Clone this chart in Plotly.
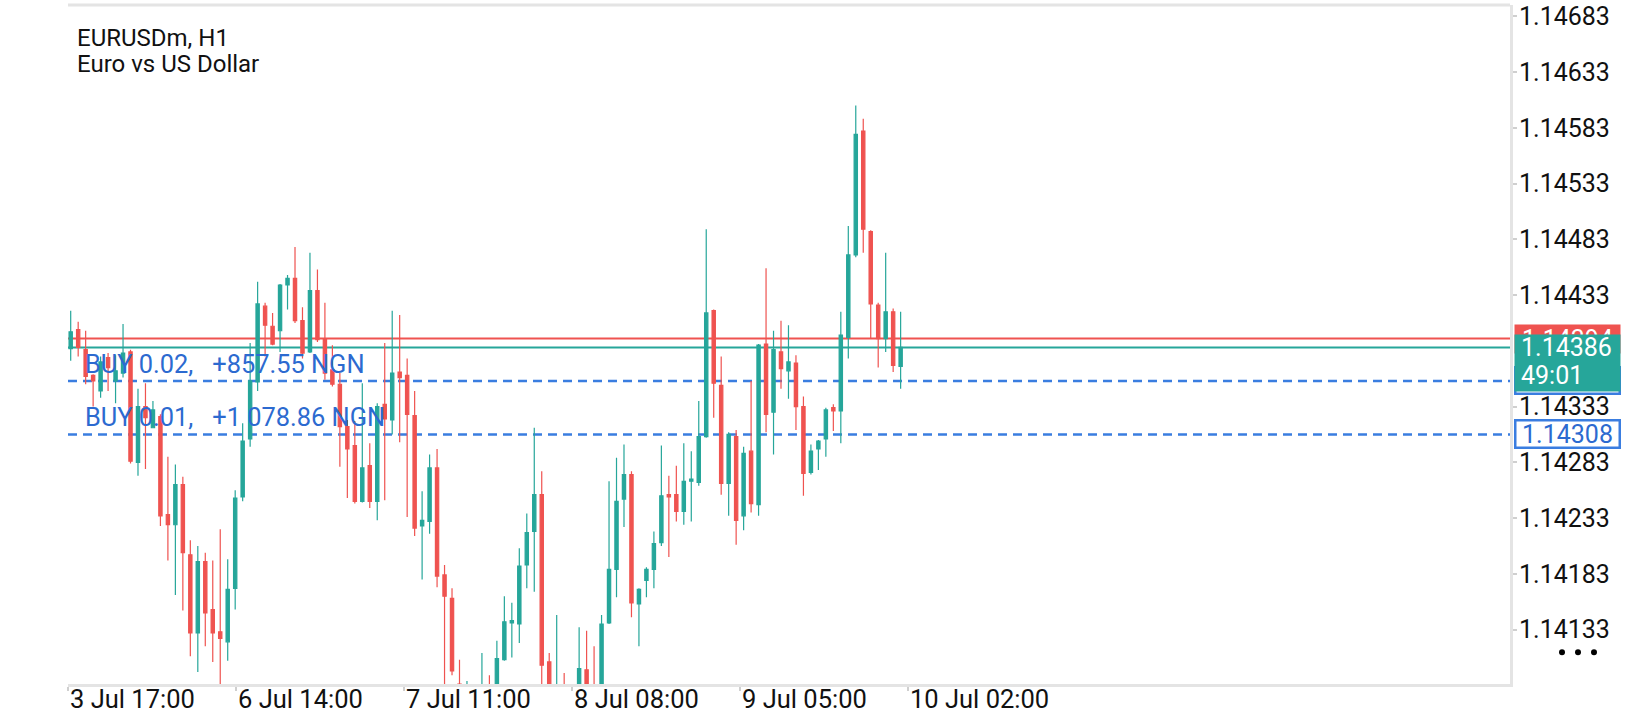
import plotly.graph_objects as go

# EURUSDm H1 bars, 3 Jul 17:00 -> 10 Jul 01:00 (last bar still open)
opens = [1.14385, 1.14402, 1.14384, 1.14361, 1.14347, 1.14377, 1.14356, 1.14363, 1.14382, 1.14283,
         1.14333, 1.14314, 1.14324, 1.14236, 1.14227, 1.14263, 1.14200, 1.14130, 1.14194, 1.14151,
         1.14131, 1.14122, 1.14170, 1.14252, 1.14304, 1.14355, 1.14423, 1.14405, 1.14401, 1.14442,
         1.14448, 1.14410, 1.14382, 1.14437, 1.14393, 1.14366, 1.14353, 1.14315, 1.14298, 1.14248,
         1.14280, 1.14248, 1.14335, 1.14321, 1.14364, 1.14361, 1.14325, 1.14226, 1.14230, 1.14278,
         1.14182, 1.14161, 1.14084, 1.14030, 1.14070, 1.14040, 1.14075, 1.14060, 1.14106, 1.14139,
         1.14138, 1.14191, 1.14221, 1.14254, 1.14104, 1.14050, 1.14080, 1.14060, 1.14070, 1.14097,
         1.14075, 1.14070, 1.14139, 1.14187, 1.14250, 1.14272, 1.14156, 1.14177, 1.14187, 1.14211,
         1.14254, 1.14254, 1.14239, 1.14266, 1.14265, 1.14306, 1.14419, 1.14352, 1.14264, 1.14306,
         1.14235, 1.14293, 1.14245, 1.14389, 1.14328, 1.14382, 1.14365, 1.14372, 1.14333, 1.14274,
         1.14295, 1.14304, 1.14332, 1.14329, 1.14395, 1.14469, 1.14580, 1.14490, 1.14424, 1.14394,
         1.14418, 1.14369]
highs = [1.14419, 1.14409, 1.14401, 1.14362, 1.14378, 1.14381, 1.14379, 1.14407, 1.14384, 1.14349,
         1.14354, 1.14338, 1.14326, 1.14288, 1.14281, 1.14270, 1.14213, 1.14208, 1.14202, 1.14195,
         1.14223, 1.14196, 1.14258, 1.14318, 1.14390, 1.14445, 1.14426, 1.14417, 1.14443, 1.14451,
         1.14476, 1.14422, 1.14471, 1.14456, 1.14426, 1.14388, 1.14363, 1.14321, 1.14320, 1.14354,
         1.14300, 1.14336, 1.14390, 1.14419, 1.14415, 1.14376, 1.14347, 1.14257, 1.14290, 1.14295,
         1.14191, 1.14170, 1.14106, 1.14087, 1.14078, 1.14112, 1.14092, 1.14123, 1.14163, 1.14157,
         1.14206, 1.14237, 1.14314, 1.14275, 1.14112, 1.14146, 1.14094, 1.14082, 1.14135, 1.14132,
         1.14118, 1.14146, 1.14266, 1.14287, 1.14299, 1.14275, 1.14170, 1.14189, 1.14221, 1.14298,
         1.14271, 1.14280, 1.14300, 1.14293, 1.14338, 1.14492, 1.14420, 1.14378, 1.14310, 1.14312,
         1.14297, 1.14356, 1.14389, 1.14457, 1.14401, 1.14410, 1.14406, 1.14379, 1.14342, 1.14299,
         1.14303, 1.14332, 1.14335, 1.14418, 1.14495, 1.14603, 1.14591, 1.14491, 1.14426, 1.14471,
         1.14421, 1.14418]
lows = [1.14374, 1.14378, 1.14353, 1.14333, 1.14341, 1.14347, 1.14336, 1.14359, 1.14282, 1.14271,
        1.14277, 1.14314, 1.14226, 1.14195, 1.14164, 1.14150, 1.14109, 1.14095, 1.14118, 1.14104,
        1.14083, 1.14105, 1.14151, 1.14248, 1.14297, 1.14347, 1.14378, 1.14388, 1.14382, 1.14420,
        1.14408, 1.14376, 1.14381, 1.14391, 1.14357, 1.14351, 1.14279, 1.14251, 1.14246, 1.14247,
        1.14242, 1.14231, 1.14249, 1.14308, 1.14301, 1.14234, 1.14217, 1.14178, 1.14219, 1.14171,
        1.14080, 1.14092, 1.14040, 1.14020, 1.14030, 1.14030, 1.14040, 1.14050, 1.14105, 1.14108,
        1.14121, 1.14170, 1.14167, 1.14084, 1.14060, 1.14040, 1.14050, 1.14050, 1.14060, 1.14060,
        1.14055, 1.14060, 1.14138, 1.14162, 1.14225, 1.14144, 1.14118, 1.14162, 1.14170, 1.14208,
        1.14198, 1.14230, 1.14227, 1.14230, 1.14262, 1.14305, 1.14323, 1.14254, 1.14235, 1.14209,
        1.14222, 1.14238, 1.14235, 1.14310, 1.14290, 1.14349, 1.14340, 1.14312, 1.14253, 1.14272,
        1.14276, 1.14288, 1.14311, 1.14300, 1.14376, 1.14467, 1.14471, 1.14394, 1.14368, 1.14382,
        1.14364, 1.14349]
closes = [1.14400, 1.14386, 1.14360, 1.14356, 1.14373, 1.14368, 1.14365, 1.14381, 1.14284, 1.14333,
          1.14323, 1.14330, 1.14235, 1.14227, 1.14263, 1.14202, 1.14130, 1.14194, 1.14148, 1.14130,
          1.14125, 1.14169, 1.14251, 1.14302, 1.14356, 1.14425, 1.14406, 1.14389, 1.14442, 1.14448,
          1.14410, 1.14381, 1.14437, 1.14393, 1.14363, 1.14353, 1.14315, 1.14295, 1.14248, 1.14278,
          1.14248, 1.14333, 1.14322, 1.14363, 1.14359, 1.14326, 1.14224, 1.14231, 1.14278, 1.14181,
          1.14163, 1.14096, 1.14050, 1.14060, 1.14045, 1.14070, 1.14050, 1.14107, 1.14140, 1.14141,
          1.14190, 1.14220, 1.14254, 1.14101, 1.14070, 1.14075, 1.14060, 1.14078, 1.14098, 1.14070,
          1.14065, 1.14138, 1.14187, 1.14248, 1.14272, 1.14157, 1.14169, 1.14187, 1.14210, 1.14253,
          1.14252, 1.14239, 1.14266, 1.14268, 1.14306, 1.14417, 1.14354, 1.14264, 1.14308, 1.14231,
          1.14291, 1.14246, 1.14388, 1.14326, 1.14384, 1.14367, 1.14373, 1.14333, 1.14273, 1.14293,
          1.14302, 1.14330, 1.14329, 1.14397, 1.14469, 1.14577, 1.14492, 1.14425, 1.14394, 1.14418,
          1.14370, 1.14386]

ask_price = 1.14394
bid_price = 1.14386
timer_text = '49:01'
buy_prices = [1.14356, 1.14308]
buy_texts = ['BUY 0.02,   +857.55 NGN', 'BUY 0.01,   +1 078.86 NGN']

time_labels = ['3 Jul 17:00', '6 Jul 14:00', '7 Jul 11:00', '8 Jul 08:00', '9 Jul 05:00', '10 Jul 02:00']
time_label_pos = [-0.32, 22.14, 44.6, 67.06, 89.52, 111.98]
price_ticks = [1.14133, 1.14183, 1.14233, 1.14283, 1.14333, 1.14433, 1.14483, 1.14533, 1.14583, 1.14633, 1.14683]

GREEN = '#26a69a'
RED = '#ef5350'
BLUE = '#3a7de0'
BLUE_TXT = '#2c6ad0'
FRAME = '#e4e4e4'
FONT = 'Roboto'

W, H = 1640, 720
ML, MR, MT, MB = 68, 130, 2, 36
plot_w = W - ML - MR
plot_h = H - MT - MB
y_lo, y_hi = 1.140842, 1.146931
pp = (y_hi - y_lo) / plot_h   # price per pixel


def px_x(x):
    return (x - ML) / plot_w


def px_y(y):
    return (H - MB - y) / plot_h


fig = go.Figure()
fig.add_trace(go.Candlestick(
    x=list(range(len(opens))), open=opens, high=highs, low=lows, close=closes,
    increasing=dict(line=dict(color=GREEN, width=1.2), fillcolor=GREEN),
    decreasing=dict(line=dict(color=RED, width=1.2), fillcolor=RED),
    whiskerwidth=0, showlegend=False, hoverinfo='skip'))

shapes = []
# frame line on top
shapes.append(dict(type='line', xref='paper', yref='paper', x0=0, x1=1, y0=1, y1=1,
                   line=dict(color=FRAME, width=3)))
# ask / bid lines
shapes.append(dict(type='line', xref='paper', yref='y', x0=0, x1=1, y0=ask_price, y1=ask_price,
                   line=dict(color=RED, width=2), layer='below'))
shapes.append(dict(type='line', xref='paper', yref='y', x0=0, x1=1, y0=bid_price, y1=bid_price,
                   line=dict(color=GREEN, width=2), layer='below'))
# open positions
for p in buy_prices:
    shapes.append(dict(type='line', xref='paper', yref='y', x0=0, x1=1, y0=p, y1=p,
                       line=dict(color=BLUE, width=2.5, dash='9px,6px'), layer='below'))
# menu dots bottom right
for dx in [1562, 1578, 1594]:
    shapes.append(dict(type='circle', xref='paper', yref='paper', xsizemode='pixel', ysizemode='pixel',
                       xanchor=px_x(dx), yanchor=px_y(652), x0=-3, x1=3, y0=-3, y1=3,
                       fillcolor='black', line=dict(width=0)))

ann = []
ann.append(dict(text='EURUSDm, H1', x=px_x(75), y=px_y(35), xref='paper', yref='paper',
                xanchor='left', yanchor='middle', showarrow=False,
                font=dict(family=FONT, size=24, color='#111111')))
ann.append(dict(text='Euro vs US Dollar', x=px_x(75), y=px_y(61), xref='paper', yref='paper',
                xanchor='left', yanchor='middle', showarrow=False,
                font=dict(family=FONT, size=24, color='#111111')))

for p, t in zip(buy_prices, buy_texts):
    ann.append(dict(text=t.replace(' ', '\u00a0'), x=px_x(83), y=p, xref='paper', yref='y',
                    xanchor='left', yanchor='middle', yshift=17, showarrow=False,
                    font=dict(family=FONT, size=25.4, color=BLUE_TXT)))

for pos, t in zip(time_label_pos, time_labels):
    ann.append(dict(text=t, x=pos, y=px_y(699), xref='x', yref='paper',
                    xanchor='left', yanchor='middle', showarrow=False,
                    font=dict(family=FONT, size=25.5, color='#111111')))

# price tags on the right scale
ann.append(dict(text=f'{ask_price:.5f}', x=px_x(1514), y=ask_price, xref='paper', yref='y',
                xanchor='left', yanchor='middle', showarrow=False, width=105, height=28,
                borderpad=0, bgcolor=RED, align='center',
                font=dict(family=FONT, size=25, color='white')))
ann.append(dict(text=f'{buy_prices[0]:.5f}', x=px_x(1514), y=buy_prices[0], xref='paper', yref='y',
                xanchor='left', yanchor='middle', showarrow=False, width=102, height=24,
                borderpad=0, borderwidth=2.5, bordercolor=BLUE, bgcolor='white', align='center',
                font=dict(family=FONT, size=25, color=BLUE_TXT)))
# green bid tag with the bar timer (box first, texts on top)
ann.append(dict(text='\u00a0', x=px_x(1514), y=bid_price + 14 * pp,
                xref='paper', yref='y', xanchor='left', yanchor='top', showarrow=False,
                width=105, height=56, borderpad=0, bgcolor=GREEN,
                font=dict(family=FONT, size=25, color='white')))
ann.append(dict(text=f'{bid_price:.5f}', x=px_x(1520), y=bid_price, xref='paper', yref='y',
                xanchor='left', yanchor='middle', showarrow=False, borderpad=0,
                font=dict(family=FONT, size=25, color='white')))
ann.append(dict(text=timer_text, x=px_x(1520), y=bid_price, yshift=-28.5, xref='paper', yref='y',
                xanchor='left', yanchor='middle', showarrow=False, borderpad=0,
                font=dict(family=FONT, size=25, color='white')))
ann.append(dict(text=f'{buy_prices[1]:.5f}', x=px_x(1514), y=buy_prices[1], xref='paper', yref='y',
                xanchor='left', yanchor='middle', showarrow=False, width=102, height=25,
                borderpad=0, borderwidth=2.5, bordercolor=BLUE, bgcolor='white', align='center',
                font=dict(family=FONT, size=25, color=BLUE_TXT)))

fig.update_layout(
    width=W, height=H,
    margin=dict(l=ML, r=MR, t=MT, b=MB, pad=0),
    paper_bgcolor='white', plot_bgcolor='white',
    boxgap=0.56, boxgroupgap=0,
    showlegend=False,
    shapes=shapes, annotations=ann,
    xaxis=dict(range=[-0.361, 192.5], showgrid=False, zeroline=False,
               showline=True, linecolor=FRAME, linewidth=3,
               ticks='outside', ticklen=4, tickwidth=1.5, tickcolor='#cfcfcf',
               tickvals=time_label_pos, showticklabels=False,
               rangeslider=dict(visible=False)),
    yaxis=dict(range=[y_lo, y_hi], side='right', showgrid=False, zeroline=False,
               showline=True, linecolor=FRAME, linewidth=3,
               ticks='outside', ticklen=4, tickwidth=1.5, tickcolor='#cfcfcf',
               tickvals=price_ticks, ticktext=[f'{v:.5f}' for v in price_ticks],
               ticklabeloverflow='allow', ticklabelstandoff=-3,
               tickfont=dict(family=FONT, size=25, color='#111111')),
)

# page has a default 8px body margin; drop it so the figure sits at the window corner
fig.write_html("out.html", config={'displayModeBar': False},
               post_script="document.body.style.margin='0px';")
